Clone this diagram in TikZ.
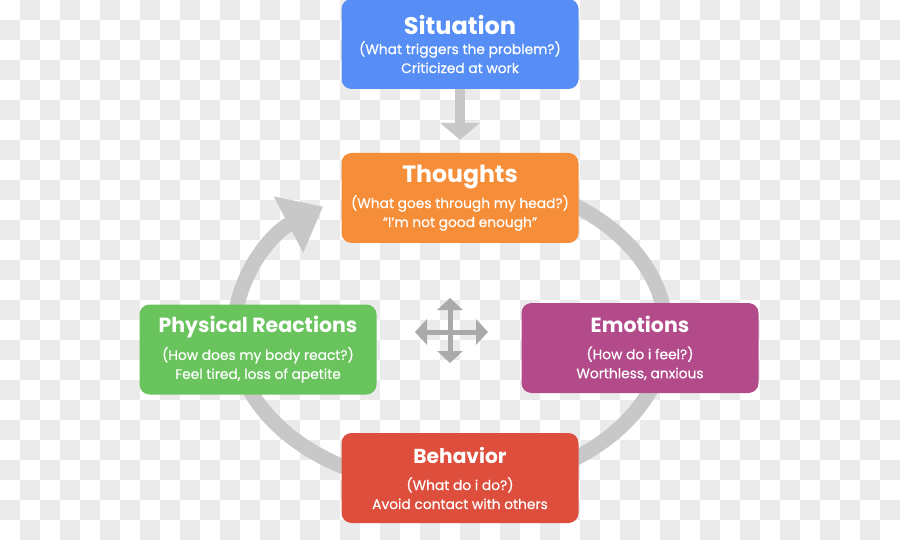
\documentclass[tikz,border=0pt]{standalone}
\usepackage{fontspec}
\setmainfont{Poppins}
\newfontfamily\bodyfont{Poppins}[FakeBold=0.5]
\usetikzlibrary{arrows.meta,calc}

\definecolor{sitblue}{RGB}{86,142,246}
\definecolor{thoorange}{RGB}{246,141,56}
\definecolor{phygreen}{RGB}{106,196,94}
\definecolor{emopurple}{RGB}{179,74,138}
\definecolor{behred}{RGB}{221,78,61}
\definecolor{ringgray}{RGB}{200,200,200}
\definecolor{checkgray}{RGB}{235,235,235}
\definecolor{movegray}{RGB}{170,170,170}

\begin{document}
\begin{tikzpicture}[
    x=1pt, y=-1pt,
    font=\bodyfont\fontsize{13.8}{19}\selectfont,
    stage/.style={rectangle, rounded corners=10pt, minimum width=237pt, minimum height=90pt, align=center, text=white},
    loop arrow/.style={draw=ringgray, line width=15pt, -{Triangle[length=39pt,width=61pt]}},
    down arrow/.style={draw=ringgray, line width=10pt, -{Triangle[length=17pt,width=39pt]}, shorten >=13pt},
    move arrow/.style={draw=movegray, line width=5pt, {Triangle[length=12pt,width=25pt]}-{Triangle[length=12pt,width=25pt]}}
]
    \useasboundingbox (0,0) rectangle (900,540);
    \fill[white] (0,0) rectangle (900,540);
    % checker background
    \foreach \row in {0,...,26}
      \foreach \k in {0,...,22} {
        \pgfmathtruncatemacro{\col}{2*\k+1-mod(\row,2)}
        \fill[checkgray] (20*\col,20*\row) rectangle ++(20,20);
      }

    \coordinate (hub) at (450,332);
    \draw[loop arrow] ($(hub)+(-60:216 and 155)$) arc[start angle=-60, end angle=234, x radius=216, y radius=155];
    \draw[move arrow] ($(hub)+(-35,0)$) -- ($(hub)+(38,0)$);
    \draw[move arrow] ($(hub)+(0,-34)$) -- ($(hub)+(0,31)$);

    \node[stage, fill=sitblue] (sit) at (460,44) {{\rmfamily\fontsize{24}{24}\selectfont\bfseries Situation}\\[1pt](What triggers the problem?)\\Criticized at work};
    \node[stage, fill=thoorange] (tho) at (460,198) {{\rmfamily\fontsize{23.6}{24}\selectfont\bfseries Thoughts}\\[5pt](What goes through my head?)\\“I’m not good enough”};
    \node[stage, fill=phygreen] (phy) at (258,349.5) {{\rmfamily\fontsize{20.5}{20}\selectfont\bfseries Physical Reactions}\\[8pt](How does my body react?)\\Feel tired, loss of apetite};
    \node[stage, fill=emopurple] (emo) at (640,348) {{\rmfamily\fontsize{20.5}{20}\selectfont\bfseries Emotions}\\[8pt](How do i feel?)\\Worthless, anxious};
    \node[stage, fill=behred] (beh) at (460,478) {{\rmfamily\fontsize{20.2}{20}\selectfont\bfseries Behavior}\\[8pt](What do i do?)\\Avoid contact with others};

    \draw[down arrow] (sit) -- (tho);
\end{tikzpicture}
\end{document}
